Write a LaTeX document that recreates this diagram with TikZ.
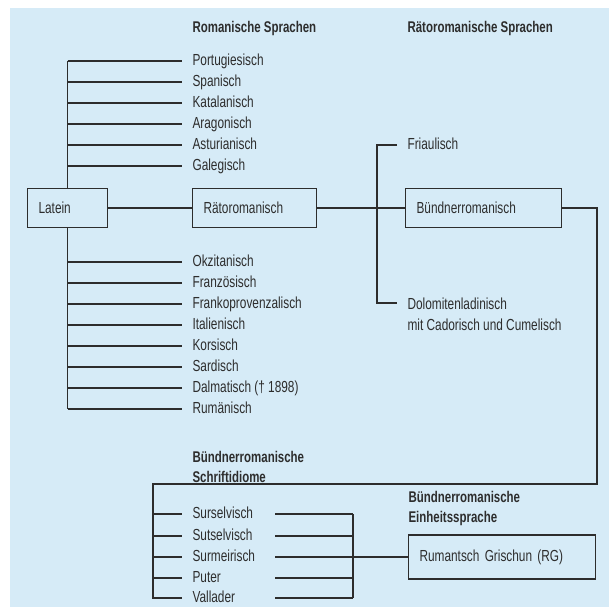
\documentclass[tikz,border=0pt]{standalone}
\usepackage{fontspec}
\setmainfont{Liberation Sans}[FakeStretch=0.74]
\usetikzlibrary{positioning,calc}
\definecolor{bgblue}{RGB}{214,235,247}
\definecolor{inkgray}{RGB}{45,45,45}

\begin{document}
\begin{tikzpicture}[x=1pt, y=-1pt, line width=1.1pt, color=inkgray,
  font=\fontsize{16}{21.5}\selectfont,
  lang/.style={anchor=west, inner xsep=10pt, inner ysep=0pt, text height=11.5pt, text depth=3pt},
  langbox/.style={draw, anchor=west, minimum height=39pt, inner xsep=11pt, align=left},
  heading/.style={anchor=north west, inner sep=0pt, align=left, font=\fontsize{15.5}{20}\selectfont\bfseries}]
\useasboundingbox (0,0) rectangle (609,607);
\fill[bgblue] (10,8) rectangle (609,607);
% headings
\node[heading] (romhead) at (192,21) {Romanische Sprachen};
\node[heading] (raetohead) at (407,21) {Rätoromanische Sprachen};
\node[heading] (schrifthead) at (192,451) {Bündnerromanische\\Schriftidiome};
\node[heading] (einheithead) at (408,491) {Bündnerromanische\\Einheitssprache};
% boxes
\node[langbox, text width=58pt] (latein) at (27,208) {Latein};
\node[langbox, text width=102pt] (raeto) at (192,208) {Rätoromanisch};
\node[langbox, text width=134pt] (buendner) at (405,208) {Bündnerromanisch};
\node[langbox, text width=165pt, minimum height=44pt] (rg) at (408,557) {Rumantsch Grischun (RG)};
% romanische Sprachen
\foreach \n/\t/\y in {portug/Portugiesisch/61, span/Spanisch/82, katal/Katalanisch/103,
  arag/Aragonisch/124, astur/Asturianisch/145, galeg/Galegisch/166,
  okzit/Okzitanisch/262, franz/Französisch/283, frankop/Frankoprovenzalisch/304,
  ital/Italienisch/325, kors/Korsisch/346, sard/Sardisch/367,
  dalmat/{Dalmatisch († 1898)}/388, rumaen/Rumänisch/409}{
  \node[lang] (\n) at (182,\y) {\t};
  \draw (latein.center |- \n.west) -- (\n.west);
}
\draw (latein.north) -- (latein.center |- portug.west);
\draw (latein.south) -- (latein.center |- rumaen.west);
\draw (latein) -- (raeto);
\draw (raeto) -- (buendner);
% raetoromanische Sprachen
\coordinate (fork) at (377,208);
\coordinate (dolo) at (397,303);
\node[lang] (friaul) at (397,145) {Friaulisch};
\node[anchor=north west, inner xsep=10pt, inner ysep=0pt, align=left] (ladin) at (397,297) {Dolomitenladinisch\\mit Cadorisch und Cumelisch};
\draw (friaul.west) -| (fork |- dolo) -- (dolo);
% Schriftidiome
\coordinate (rturn) at (597,484);
\coordinate (lturn) at (153,484);
\coordinate (rbar) at (353,514);
\foreach \n/\t/\y in {sursel/Surselvisch/514, sutsel/Sutselvisch/536, surmeir/Surmeirisch/557,
  puter/Puter/578, vallader/Vallader/598}{
  \node[lang] (\n) at (182,\y) {\t};
  \draw (lturn |- \n.west) -- (\n.west);
  \draw ([xshift=93pt]\n.west) -- (rbar |- \n.west);
}
\draw (buendner.east) -| (rturn) -- (lturn) |- (vallader.west);
\draw (rbar) -- (rbar |- vallader.west);
\draw (rbar |- surmeir.west) -- (rg.west);
\end{tikzpicture}
\end{document}
